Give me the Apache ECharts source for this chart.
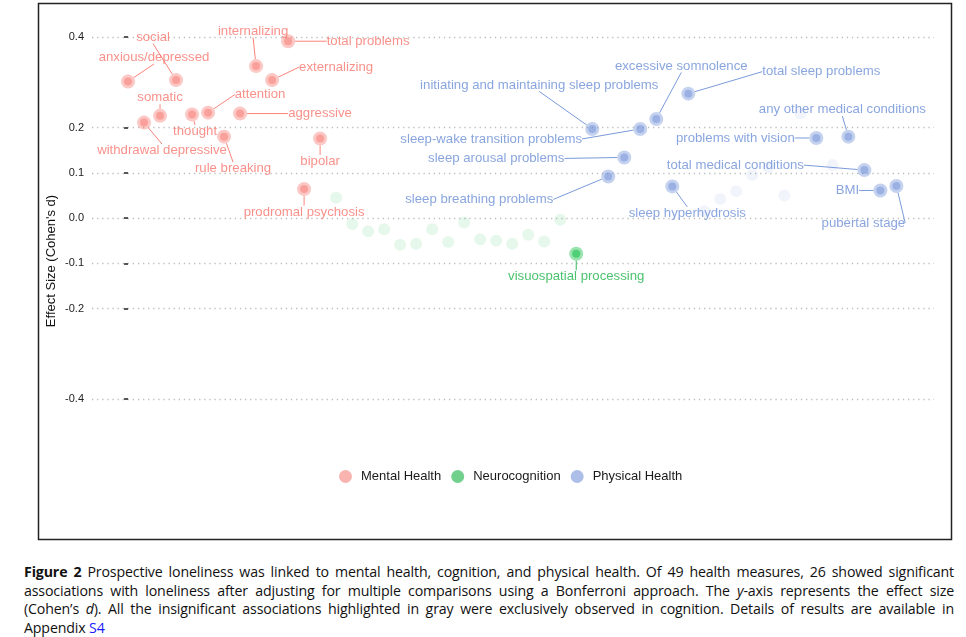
<!DOCTYPE html>
<html>
<head>
<meta charset="utf-8">
<script src="https://cdn.jsdelivr.net/npm/echarts@6/dist/echarts.min.js"></script>
<style>
  body { margin: 0; background: #fff; }
  #chart { position: absolute; left: 0; top: 0; width: 966px; height: 545px; }
  #caption { position: absolute; left: 24px; top: 563px; width: 930px;
    font-family: "Open Sans", sans-serif; font-size: 14.2px; letter-spacing: -0.15px;
    line-height: 18.7px; color: #111; }
  #caption .j { text-align: justify; text-align-last: justify; white-space: nowrap; }
  #caption a { color: #1a1aff; text-decoration: none; }
</style>
</head>
<body>
<div id="chart"></div>
<div id="caption">
  <div class="j"><b>Figure 2</b> Prospective loneliness was linked to mental health, cognition, and physical health. Of 49 health measures, 26 showed significant</div>
  <div class="j">associations with loneliness after adjusting for multiple comparisons using a Bonferroni approach. The <i>y</i>-axis represents the effect size</div>
  <div class="j">(Cohen’s <i>d</i>). All the insignificant associations highlighted in gray were exclusively observed in cognition. Details of results are available in</div>
  <div>Appendix <a>S4</a></div>
</div>
<script>
// domains, in x order
var domains = ['Mental Health', 'Neurocognition', 'Physical Health'];

// one entry per health measure (49), '' = unlabeled
var measures = [
  'anxious/depressed', 'withdrawal depressive', 'somatic', 'social', 'thought',
  'attention', 'rule breaking', 'aggressive', 'internalizing', 'externalizing',
  'total problems', 'prodromal psychosis', 'bipolar',
  '', '', '', '', '', '', '', '', '', '', '', '', '', '', '',
  'visuospatial processing',
  'initiating and maintaining sleep problems', 'sleep breathing problems',
  'sleep arousal problems', 'sleep-wake transition problems', 'excessive somnolence',
  'sleep hyperhydrosis', 'total sleep problems',
  '', '', '', '', '', '', '',
  'problems with vision', '', 'any other medical conditions',
  'total medical conditions', 'BMI', 'pubertal stage'
];
var effectSize = [
  0.302, 0.211, 0.226, 0.305, 0.229, 0.233, 0.180, 0.231, 0.336, 0.305, 0.391, 0.064, 0.176,
  0.045, -0.013, -0.029, -0.025, -0.059, -0.057, -0.025, -0.053, -0.010, -0.047, -0.050,
  -0.057, -0.037, -0.052, -0.004, -0.079,
  0.197, 0.092, 0.134, 0.197, 0.219, 0.070, 0.275,
  0.015, 0.042, 0.059, 0.095, 0.113, 0.050, 0.231,
  0.177, 0.117, 0.180, 0.106, 0.061, 0.071
];
var domainIndex = [
  0, 0, 0, 0, 0, 0, 0, 0, 0, 0, 0, 0, 0,
  1, 1, 1, 1, 1, 1, 1, 1, 1, 1, 1, 1, 1, 1, 1, 1,
  2, 2, 2, 2, 2, 2, 2, 2, 2, 2, 2, 2, 2, 2, 2, 2, 2, 2, 2, 2, 2
];
var significant = [
  1, 1, 1, 1, 1, 1, 1, 1, 1, 1, 1, 1, 1,
  0, 0, 0, 0, 0, 0, 0, 0, 0, 0, 0, 0, 0, 0, 0, 1,
  1, 1, 1, 1, 1, 1, 1, 0, 0, 0, 0, 0, 0, 0, 1, 0, 1, 1, 1, 1
];
var yTicks = [0.4, 0.2, 0.1, 0.0, -0.1, -0.2, -0.4];

// repelled label placement (px from point)
var labelOffsets = {
  'anxious/depressed': [26, -24], 'withdrawal depressive': [18, 28], 'somatic': [0, -18],
  'social': [-23, -43], 'thought': [3, 17], 'attention': [52, -18],
  'rule breaking': [9, 32], 'aggressive': [80, 0], 'internalizing': [-3, -35],
  'externalizing': [64, -13], 'total problems': [80, 0], 'prodromal psychosis': [0, 23],
  'bipolar': [0, 23], 'visuospatial processing': [0, 23],
  'initiating and maintaining sleep problems': [-53, -44], 'sleep breathing problems': [-129, 23],
  'sleep arousal problems': [-128, 1], 'sleep-wake transition problems': [-149, 10],
  'excessive somnolence': [25, -53], 'sleep hyperhydrosis': [15, 27],
  'total sleep problems': [133, -22], 'problems with vision': [-81, 0],
  'any other medical conditions': [-6, -27], 'total medical conditions': [-129, -5],
  'BMI': [-33, 0], 'pubertal stage': [-33, 37]
};

var rgb = ['248,118,109', '0,186,56', '109,143,214'];
var textColors = ['#F8766D', '#1fb34a', '#6b8ed6'];
var legendColors = ['#f9a19b', '#4ec46e', '#98aee2'];
var font = '"Liberation Sans", Arial, sans-serif';

var series = [];
domains.forEach(function (dname, d) {
  var sig = [], insig = [];
  for (var i = 0; i < measures.length; i++) {
    if (domainIndex[i] !== d) continue;
    var item = { value: [i, effectSize[i]], name: measures[i] };
    (significant[i] ? sig : insig).push(item);
  }
  series.push({
    name: dname, type: 'scatter', z: 1, silent: true,
    symbolSize: 12,
    itemStyle: { color: 'rgba(' + rgb[d] + ',0.12)' },
    data: insig
  });
  series.push({
    name: dname, type: 'scatter', z: 2, silent: true,
    symbolSize: 14,
    itemStyle: { color: 'rgba(' + rgb[d] + ',0.5)' },
    label: {
      show: true, position: 'inside', formatter: '{b}', padding: [1, 2],
      color: textColors[d], fontFamily: font, fontSize: 13.2
    },
    labelLine: { show: true, length2: 0, lineStyle: { color: textColors[d], width: 0.9 } },
    labelLayout: function (p) {
      var o = labelOffsets[p.text];
      return o ? { dx: o[0], dy: o[1] } : {};
    },
    data: sig
  });
  series.push({
    name: dname, type: 'scatter', z: 3, silent: true,
    symbolSize: 8,
    itemStyle: { color: 'rgba(' + rgb[d] + ',0.6)' },
    data: sig.map(function (s) { return s.value; })
  });
});

var chart = echarts.init(document.getElementById('chart'));
chart.setOption({
  animation: false,
  backgroundColor: '#fff',
  graphic: [{
    type: 'rect', z: 100, silent: true,
    shape: { x: 38.5, y: 3.5, width: 913, height: 536 },
    style: { fill: null, stroke: '#222', lineWidth: 1.5 }
  }],
  grid: { left: 92, right: 32, top: 10, bottom: 33 },
  legend: {
    top: 465, left: 334,
    itemWidth: 13, itemHeight: 13, itemGap: 10,
    icon: 'circle',
    textStyle: { fontFamily: font, fontSize: 13, color: '#1a1a1a', padding: [0, 0, 0, 4] },
    data: domains.map(function (n, d) {
      return { name: n, itemStyle: { color: legendColors[d] } };
    })
  },
  xAxis: {
    type: 'value', min: -2.25, max: 50.35, show: false,
    splitLine: { show: false }
  },
  yAxis: {
    type: 'value', min: -0.65, max: 0.46,
    name: "Effect Size (Cohen's d)",
    nameLocation: 'middle', nameGap: 34, nameMoveOverlap: false,
    nameTextStyle: { fontFamily: font, fontSize: 13, color: '#111' },
    axisLine: { show: false },
    axisTick: { show: true, length: 4, customValues: yTicks, lineStyle: { color: '#222', width: 1.5 } },
    axisLabel: {
      customValues: yTicks, margin: 8,
      fontFamily: font, fontSize: 11, color: '#222',
      formatter: function (v) { return v.toFixed(1); }
    },
    splitLine: { show: true, lineStyle: { color: '#bdbdbd', width: 1.3, type: [1.3, 3.8] } }
  },
  series: series
});
</script>
</body>
</html>
